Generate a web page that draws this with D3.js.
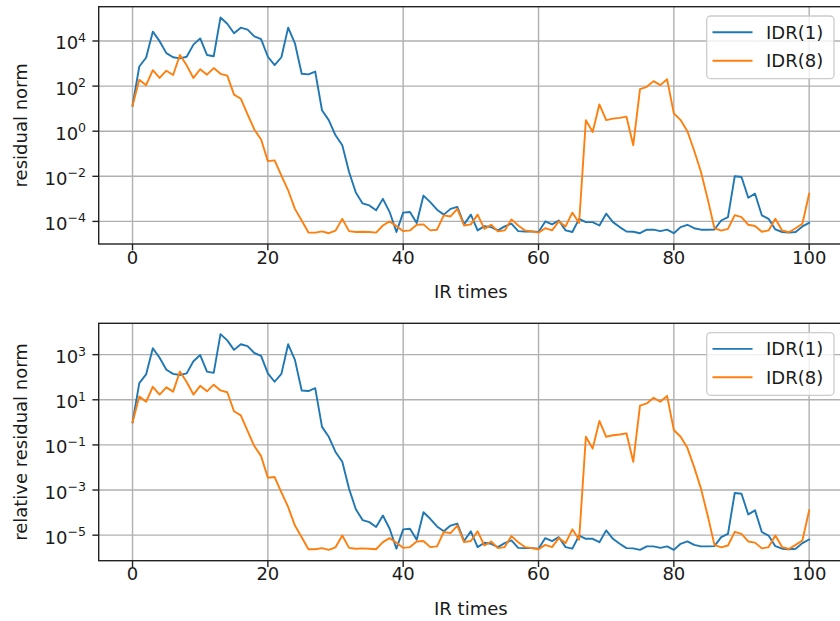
<!DOCTYPE html>
<html>
<head>
<meta charset="utf-8">
<script src="https://cdn.jsdelivr.net/npm/d3@7"></script>
<style>
  body { margin: 0; background: #fff; }
  svg text { font-family: "DejaVu Sans", sans-serif; fill: #1a1a1a; }
</style>
</head>
<body>
<div id="chart"></div>
<script>
// IR iteration index
var irTimes = d3.range(0, 101);

// residual norm, IDR(1)
var idr1 = [
  1.35e1, 7.4e2, 1.8e3, 2.6e4, 9.8e3, 2.9e3, 1.9e3, 1.7e3, 2.0e3, 6.9e3,
  1.3e4, 2.4e3, 2.1e3, 1.1e5, 5.8e4, 2.2e4, 3.9e4, 3.2e4, 1.6e4, 1.2e4,
  2.0e3, 8.5e2, 1.9e3, 3.9e4, 7.9e3, 3.5e2, 3.3e2, 4.4e2, 8.5, 3.1,
  6.6e-1, 2.4e-1, 1.55e-2, 1.9e-3, 6.3e-4, 5.1e-4, 3.1e-4, 1.0e-3, 2.6e-4, 3.4e-5,
  2.45e-4, 2.6e-4, 8.5e-5, 1.4e-3, 7.2e-4, 3.3e-4, 2.0e-4, 3.6e-4, 4.4e-4, 7.4e-5,
  2.0e-4, 4.0e-5, 6.2e-5, 5.6e-5, 4.0e-5, 6.0e-5, 7.9e-5, 3.7e-5, 3.6e-5, 3.6e-5,
  3.4e-5, 1.0e-4, 7.4e-5, 1.1e-4, 4.0e-5, 3.4e-5, 1.3e-4, 9.3e-5, 9.3e-5, 6.6e-5,
  2.2e-4, 9.3e-5, 5.6e-5, 3.6e-5, 3.5e-5, 3.0e-5, 4.3e-5, 4.3e-5, 3.7e-5, 4.3e-5,
  3.0e-5, 5.6e-5, 7.1e-5, 5.0e-5, 4.3e-5, 4.3e-5, 4.4e-5, 1.1e-4, 1.55e-4, 1.0e-2,
  9.3e-3, 1.12e-3, 1.7e-3, 1.86e-4, 1.3e-4, 4.4e-5, 3.4e-5, 3.2e-5, 3.4e-5, 6.0e-5,
  8.7e-5
];

// residual norm, IDR(8)
var idr8 = [
  1.35e1, 1.9e2, 1.1e2, 5.1e2, 2.3e2, 4.8e2, 3.1e2, 2.4e3, 8.3e2, 2.3e2,
  5.6e2, 3.2e2, 6.3e2, 3.5e2, 2.9e2, 4.2e1, 2.75e1, 5.6, 1.2, 4.3e-1,
  4.7e-2, 5.1e-2, 1.07e-2, 2.4e-3, 3.6e-4, 1.1e-4, 3.2e-5, 3.2e-5, 3.6e-5, 3.0e-5,
  3.9e-5, 1.3e-4, 3.7e-5, 3.4e-5, 3.5e-5, 3.4e-5, 3.2e-5, 6.6e-5, 1.0e-4, 6.2e-5,
  3.7e-5, 4.0e-5, 7.1e-5, 7.4e-5, 4.0e-5, 4.3e-5, 1.86e-4, 1.66e-4, 3.6e-4, 6.6e-5,
  7.4e-5, 2.0e-4, 4.7e-5, 7.1e-5, 3.6e-5, 4.0e-5, 1.23e-4, 6.6e-5, 4.0e-5, 3.6e-5,
  3.2e-5, 5.0e-5, 4.0e-5, 1.0e-4, 6.0e-5, 2.45e-4, 8.5e-5, 3.1, 9.3e-1, 1.55e1,
  3.1, 3.6, 3.9, 4.4, 2.4e-1, 7.4e1, 9.3e1, 1.66e2, 1.1e2, 2.0e2,
  6.2, 3.1, 1.0, 1.4e-1, 1.6e-2, 1.0e-3, 5.0e-5, 3.9e-5, 4.7e-5, 1.9e-4,
  1.55e-4, 7.1e-5, 6.3e-5, 3.5e-5, 4.0e-5, 1.3e-4, 4.0e-5, 3.3e-5, 5.0e-5, 7.9e-5,
  1.7e-3
];

var seriesNames = ["IDR(1)", "IDR(8)"];
var seriesColors = ["#1f77b4", "#ff7f0e"];

var xTicks = [0, 20, 40, 60, 80, 100];
var topTicks = [1e-4, 1e-2, 1e0, 1e2, 1e4];
var bottomTicks = [1e-5, 1e-3, 1e-1, 1e1, 1e3];

// relative residual = residual / initial residual
var relIdr1 = idr1.map(function(v) { return v / idr1[0]; });
var relIdr8 = idr8.map(function(v) { return v / idr8[0]; });

var width = 840, height = 621;
var fontSize = 18;

var svg = d3.select("#chart").append("svg")
  .attr("width", width)
  .attr("height", height)
  .style("display", "block");

var x = d3.scaleLinear().domain([-5, 105]).range([98.7, 843]);

//log domain with matplotlib style 5% margins in log space
function logDomain(all) {
  var lo = Math.log10(d3.min(all)), hi = Math.log10(d3.max(all));
  var m = (hi - lo) * 0.05;
  return [Math.pow(10, lo - m), Math.pow(10, hi + m)];
}

function drawPanel(cfg) {
  var top = cfg.top, bottom = cfg.bottom;
  var y = d3.scaleLog()
    .domain(logDomain(cfg.series[0].concat(cfg.series[1])))
    .range([bottom, top]);

  var g = svg.append("g");

  g.append("defs").append("clipPath").attr("id", cfg.id + "-clip")
    .append("rect")
    .attr("x", x.range()[0]).attr("y", top)
    .attr("width", x.range()[1] - x.range()[0]).attr("height", bottom - top);

  //grid
  g.selectAll(".xgrid").data(xTicks).enter().append("line")
    .attr("x1", function(d) { return x(d); }).attr("x2", function(d) { return x(d); })
    .attr("y1", top).attr("y2", bottom)
    .style("stroke", "#b0b0b0").style("stroke-width", 1.4);
  g.selectAll(".ygrid").data(cfg.ticks).enter().append("line")
    .attr("x1", x.range()[0]).attr("x2", x.range()[1])
    .attr("y1", function(d) { return y(d); }).attr("y2", function(d) { return y(d); })
    .style("stroke", "#b0b0b0").style("stroke-width", 1.4);

  //lines
  var line = d3.line()
    .x(function(d, i) { return x(irTimes[i]); })
    .y(function(d) { return y(d); });
  cfg.series.forEach(function(s, k) {
    g.append("path")
      .attr("d", line(s))
      .attr("clip-path", "url(#" + cfg.id + "-clip)")
      .style("fill", "none")
      .style("stroke", seriesColors[k])
      .style("stroke-width", 1.9)
      .style("stroke-linejoin", "round")
      .style("stroke-linecap", "square");
  });

  //spines
  g.append("rect")
    .attr("x", x.range()[0]).attr("y", top)
    .attr("width", x.range()[1] - x.range()[0]).attr("height", bottom - top)
    .style("fill", "none").style("stroke", "#222").style("stroke-width", 1.4);

  //x ticks
  var xt = g.selectAll(".xtick").data(xTicks).enter().append("g")
    .attr("transform", function(d) { return "translate(" + x(d) + "," + bottom + ")"; });
  xt.append("line").attr("y2", 6.3).style("stroke", "#222").style("stroke-width", 1.4);
  xt.append("text")
    .attr("y", cfg.xTickBase)
    .attr("text-anchor", "middle")
    .style("font-size", fontSize + "px")
    .text(function(d) { return d; });

  //y ticks
  var yt = g.selectAll(".ytick").data(cfg.ticks).enter().append("g")
    .attr("transform", function(d) { return "translate(" + x.range()[0] + "," + y(d) + ")"; });
  yt.append("line").attr("x2", -6.3).style("stroke", "#222").style("stroke-width", 1.4);
  var lab = yt.append("text")
    .attr("x", -12.6)
    .attr("y", 8.5)
    .attr("text-anchor", "end")
    .style("font-size", fontSize + "px");
  lab.append("tspan").text("10");
  lab.append("tspan")
    .attr("dy", -7.5)
    .style("font-size", "12.6px")
    .text(function(d) { return Math.round(Math.log10(d)).toString().replace("-", "\u2212"); });

  //axis labels
  g.append("text")
    .attr("x", (x.range()[0] + x.range()[1]) / 2)
    .attr("y", bottom + 54)
    .attr("text-anchor", "middle")
    .style("font-size", fontSize + "px")
    .text("IR times");
  g.append("text")
    .attr("transform", "translate(27," + ((top + bottom) / 2) + ") rotate(-90)")
    .attr("text-anchor", "middle")
    .style("font-size", fontSize + "px")
    .text(cfg.yLabel);

  //legend
  var lg = g.append("g").attr("transform", "translate(0," + top + ")");
  lg.append("rect")
    .attr("x", 706.7).attr("y", 9.3)
    .attr("width", 127.3).attr("height", 62.7)
    .attr("rx", 4).attr("ry", 4)
    .style("fill", "#fff").style("fill-opacity", 0.8)
    .style("stroke", "#cccccc").style("stroke-width", 1.3);
  seriesNames.forEach(function(name, k) {
    var ly = 25.6 + k * 28.4;
    lg.append("line")
      .attr("x1", 712.5).attr("x2", 752.5)
      .attr("y1", ly).attr("y2", ly)
      .style("stroke", seriesColors[k]).style("stroke-width", 1.9);
    lg.append("text")
      .attr("x", 766).attr("y", ly + 6.5)
      .style("font-size", fontSize + "px")
      .text(name);
  });
}

drawPanel({
  id: "top",
  top: 6.7, bottom: 244,
  series: [idr1, idr8],
  ticks: topTicks,
  yLabel: "residual norm",
  xTickBase: 20
});

drawPanel({
  id: "bottom",
  top: 323.3, bottom: 560.7,
  series: [relIdr1, relIdr8],
  ticks: bottomTicks,
  yLabel: "relative residual norm",
  xTickBase: 19
});
</script>
</body>
</html>
